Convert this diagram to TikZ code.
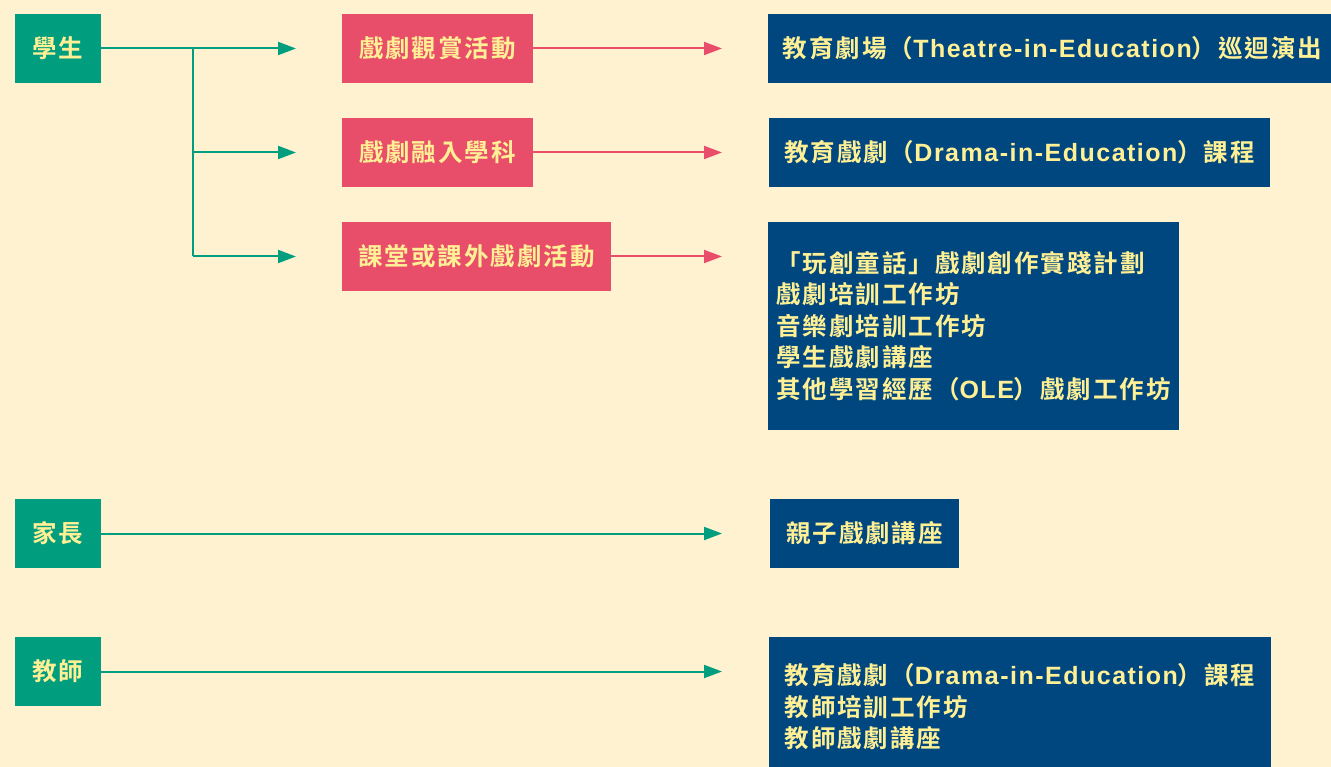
\documentclass[tikz,border=0pt]{standalone}
\usepackage{fontspec}
\usetikzlibrary{arrows.meta}
\newfontfamily\cjkf{Noto Sans CJK TC}[BoldFont={* Bold}, LetterSpace=8]
\newfontfamily\latf{Liberation Sans}[LetterSpace=6]
\newcommand{\lat}[1]{{\latf\fontsize{25}{31.5}\selectfont #1}}
\definecolor{bgc}{HTML}{FEF2D0}
\definecolor{grn}{HTML}{009D7E}
\definecolor{pnk}{HTML}{E84E6A}
\definecolor{blu}{HTML}{00467F}
\definecolor{txt}{HTML}{FFF095}
\tikzset{
  lbl/.style={inner sep=0pt, text=txt, font=\cjkf\bfseries\fontsize{24.5}{31.5}\selectfont, align=left},
  whobox/.style={lbl, fill=grn, minimum width=86pt, minimum height=69pt},
  actbox/.style={lbl, fill=pnk, minimum height=69pt},
  outbox/.style={lbl, fill=blu},
  garrow/.style={draw=grn, line width=2pt, -{Triangle[length=18pt,width=13pt]}},
  parrow/.style={draw=pnk, line width=2pt, -{Triangle[length=18pt,width=13pt]}},
  gline/.style={draw=grn, line width=2pt}
}
\begin{document}
\begin{tikzpicture}[x=1pt,y=-1pt]
\clip (0,0) rectangle (1331,767);
\fill[bgc] (0,0) rectangle (1331,767);
% who
\node[whobox] (s) at (58,48.5) {學生};
\node[whobox] (p) at (58,533.5) {家長};
\node[whobox] (t) at (58,671.5) {教師};
% activities
\node[actbox, minimum width=191pt] (a1) at (437.5,48.5) {戲劇觀賞活動};
\node[actbox, minimum width=191pt] (a2) at (437.5,152.5) {戲劇融入學科};
\node[actbox, minimum width=269pt] (a3) at (476.5,256.5) {課堂或課外戲劇活動};
% outcomes
\node[outbox, minimum width=569pt, minimum height=69pt] (b1) at (1052.5,48.5) {教育劇場（\lat{Theatre-in-Education}）巡迴演出};
\node[outbox, minimum width=501pt, minimum height=69pt] (b2) at (1019.5,152.5) {教育戲劇（\lat{Drama-in-Education}）課程};
\node[outbox, minimum width=411pt, minimum height=208pt] (b3) at (973.5,326) {「玩創童話」戲劇創作實踐計劃\\戲劇培訓工作坊\\音樂劇培訓工作坊\\學生戲劇講座\\其他學習經歷（\lat{OLE}）戲劇工作坊};
\node[outbox, minimum width=189pt, minimum height=69pt] (b4) at (864.5,533.5) {親子戲劇講座};
\node[outbox, minimum width=502pt, minimum height=140pt] (b5) at (1020,707) {教育戲劇（\lat{Drama-in-Education}）課程\\教師培訓工作坊\\教師戲劇講座};
% connector points
\coordinate (j1) at (193,48.5);
\coordinate (j2) at (193,152.5);
\coordinate (j3) at (193,256.5);
\coordinate (e1) at (296,48.5);
\coordinate (e2) at (296,152.5);
\coordinate (e3) at (296,256.5);
\coordinate (f1) at (722,48.5);
\coordinate (f2) at (722,152.5);
\coordinate (f3) at (722,256.5);
\coordinate (f4) at (722,533.5);
\coordinate (f5) at (722,671.5);
% green
\draw[garrow] (s.east) -- (e1);
\draw[gline] (j1) -- (j3);
\draw[garrow] (j2) -- (e2);
\draw[garrow] (j3) -- (e3);
\draw[garrow] (p.east) -- (f4);
\draw[garrow] (t.east) -- (f5);
% pink
\draw[parrow] (a1.east) -- (f1);
\draw[parrow] (a2.east) -- (f2);
\draw[parrow] (a3.east) -- (f3);
\end{tikzpicture}
\end{document}
